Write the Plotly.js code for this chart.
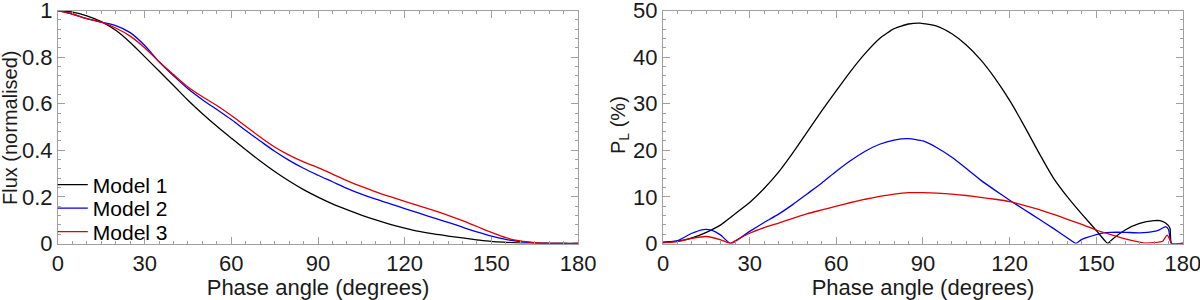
<!DOCTYPE html>
<html>
<head>
<meta charset="utf-8">
<script src="https://cdn.plot.ly/plotly-3.0.1.min.js"></script>
<style>html,body{margin:0;padding:0;background:#fff;}#chart{width:1200px;height:300px;}</style>
</head>
<body>
<div id="chart"></div>
<script>
// ---- Left panel: normalised flux ----
const fluxAngles = [0,5,10,15,20,25,30,35,40,45,50,55,60,65,70,75,80,85,90,95,100,105,110,115,120,125,130,135,140,145,150,155,160,165,170,175,180];
const fluxModel1 = [1.0,0.993,0.977,0.952,0.915,0.863,0.802,0.74,0.678,0.615,0.557,0.503,0.452,0.402,0.354,0.309,0.268,0.231,0.199,0.17,0.145,0.122,0.101,0.082,0.066,0.052,0.041,0.032,0.024,0.016,0.009,0.005,0.002,0.001,0.0,0.0,0.0];
const fluxModel2 = [1.0,0.985,0.965,0.95,0.935,0.905,0.85,0.78,0.72,0.664,0.617,0.575,0.532,0.485,0.44,0.396,0.357,0.323,0.293,0.265,0.237,0.212,0.19,0.17,0.15,0.13,0.11,0.091,0.07,0.05,0.032,0.018,0.008,0.003,0.001,0.0,0.0];
const fluxModel3 = [1.0,0.985,0.965,0.95,0.925,0.89,0.84,0.78,0.725,0.672,0.63,0.592,0.549,0.503,0.457,0.414,0.379,0.35,0.326,0.298,0.27,0.245,0.222,0.201,0.181,0.162,0.142,0.121,0.098,0.073,0.048,0.025,0.011,0.004,0.001,0.0,0.0];

// ---- Right panel: linear polarisation P_L (%) ----
const polAngles1 = [0,5,10,15,20,23,25,30,35,40,45,50,55,60,65,70,75,80,85,89,95,100,105,110,115,120,125,130,135,140,145,150,154,155,160,165,170,172,174,175.5,176,180];
const polModel1  = [0.3,0.5,1.2,2.4,4.0,5.4,6.4,8.8,11.8,15.3,19.5,24.0,28.5,32.8,37.0,40.8,44.0,46.1,47.1,47.3,46.6,45.0,42.6,39.4,35.4,30.7,25.3,19.6,14.2,10.0,6.3,2.8,0.0,0.6,2.9,4.3,4.9,4.9,4.4,3.3,0.0,0.0];
const polAngles2 = [0,5,10,14,17,20,23.4,30,35,40,45,50,55,60,65,70,75,80,85,90,95,100,105,110,115,120,125,130,135,140,143,145,150,152.5,155,160,165,170,172,174,175,176,180];
const polModel2  = [0.2,0.6,2.2,3.0,2.8,1.8,0.0,2.6,4.5,6.3,8.4,10.7,13.0,15.5,17.8,19.8,21.3,22.2,22.5,22.0,20.5,18.5,16.1,13.6,11.4,9.3,7.3,5.3,3.3,1.2,0.0,0.9,1.9,2.3,2.4,2.4,2.3,2.6,3.0,3.6,3.0,0.0,0.0];
const polAngles3 = [0,5,10,15,20,23.4,25,30,35,40,45,50,55,60,65,70,75,80,85,90,95,100,105,110,115,120,125,130,135,140,145,150,155,160,165,167,170,173,174.5,175.5,176,180];
const polModel3  = [0.1,0.4,1.1,1.5,0.8,0.0,0.6,2.2,3.4,4.4,5.4,6.4,7.2,8.0,8.8,9.5,10.1,10.6,10.9,10.9,10.8,10.6,10.3,9.9,9.5,9.0,8.2,7.3,6.3,5.2,4.1,2.9,1.9,1.0,0.3,0.1,0.2,0.5,1.8,0.8,0.0,0.0];

const modelNames = ['Model 1','Model 2','Model 3'];
const modelColors = ['#000000','#0000ee','#e00000'];

const xTicks = [0,30,60,90,120,150,180];
const fluxTicks = [0,0.2,0.4,0.6,0.8,1];
const polTicks = [0,10,20,30,40,50];

const family = 'Liberation Sans, Arial, Helvetica, sans-serif';
const font = {family: family, size: 22, color: '#1a1a1a'};
const yTitleFont = {family: family, size: 20, color: '#1a1a1a'};
const legendFont = {family: family, size: 21, color: '#000000'};

const legendIds = ['legend', 'legend2', 'legend3'];
const fluxSeries = [fluxModel1, fluxModel2, fluxModel3];
const polX = [polAngles1, polAngles2, polAngles3];
const polSeries = [polModel1, polModel2, polModel3];

const traces = [];
fluxSeries.forEach((ys, i) => traces.push({
  type: 'scatter', mode: 'lines', x: fluxAngles, y: ys, name: modelNames[i], legend: legendIds[i],
  line: {color: modelColors[i], width: 1.3, shape: 'spline', smoothing: 1}
}));
polSeries.forEach((ys, i) => traces.push({
  type: 'scatter', mode: 'lines', x: polX[i], y: ys, name: modelNames[i], showlegend: false,
  xaxis: 'x2', yaxis: 'y2',
  line: {color: modelColors[i], width: 1.3, shape: 'spline', smoothing: 0.5}
}));

function axisBase(extra) {
  return Object.assign({
    showline: true, linecolor: '#a0a0a0', linewidth: 1, mirror: 'ticks',
    ticks: 'inside', ticklen: 7, tickcolor: '#a0a0a0', tickwidth: 1,
    showgrid: false, zeroline: false, tickfont: font, fixedrange: true,
    ticklabeloverflow: 'allow', automargin: false
  }, extra);
}

function legendAt(yPx) {
  return {x: 0.044, y: 1 - yPx / 300, xanchor: 'left', yanchor: 'middle', bgcolor: 'rgba(0,0,0,0)',
          borderwidth: 0, font: legendFont, itemwidth: 30};
}

const layout = {
  width: 1200, height: 300,
  margin: {l: 0, r: 0, t: 0, b: 0},
  paper_bgcolor: '#ffffff', plot_bgcolor: '#ffffff',
  font: font,
  showlegend: true,
  legend: legendAt(185),
  legend2: legendAt(208.5),
  legend3: legendAt(232),
  xaxis: axisBase({domain: [0.0483, 0.4817], range: [0, 180], tickvals: xTicks, ticktext: xTicks.map(String),
    anchor: 'y', minor: {dtick: 5, ticks: 'inside', ticklen: 3, tickcolor: '#a0a0a0'},
    title: {text: 'Phase angle (degrees)', font: font, standoff: 0}}),
  yaxis: axisBase({domain: [0.1883, 0.965], range: [0, 1], tickvals: fluxTicks, ticktext: fluxTicks.map(String),
    anchor: 'x', minor: {dtick: 0.04, ticks: 'inside', ticklen: 3, tickcolor: '#a0a0a0'}}),
  xaxis2: axisBase({domain: [0.5525, 0.9858], range: [0, 180], tickvals: xTicks, ticktext: xTicks.map(String),
    anchor: 'y2', minor: {dtick: 5, ticks: 'inside', ticklen: 3, tickcolor: '#a0a0a0'},
    title: {text: 'Phase angle (degrees)', font: font, standoff: 0}}),
  yaxis2: axisBase({domain: [0.1883, 0.965], range: [0, 50], tickvals: polTicks, ticktext: polTicks.map(String),
    anchor: 'x2', minor: {dtick: 2, ticks: 'inside', ticklen: 3, tickcolor: '#a0a0a0'}}),
  annotations: [
    {text: 'Flux (normalised)', xref: 'paper', yref: 'paper', x: 10 / 1200, y: 1 - 128 / 300,
     xanchor: 'center', yanchor: 'middle', textangle: -90, showarrow: false, font: yTitleFont},
    {text: 'P<sub>L</sub> (%)', xref: 'paper', yref: 'paper', x: 619 / 1200, y: 1 - 125 / 300,
     xanchor: 'center', yanchor: 'middle', textangle: -90, showarrow: false, font: yTitleFont}
  ]
};

Plotly.newPlot('chart', traces, layout, {staticPlot: true, displayModeBar: false});
</script>
</body>
</html>
